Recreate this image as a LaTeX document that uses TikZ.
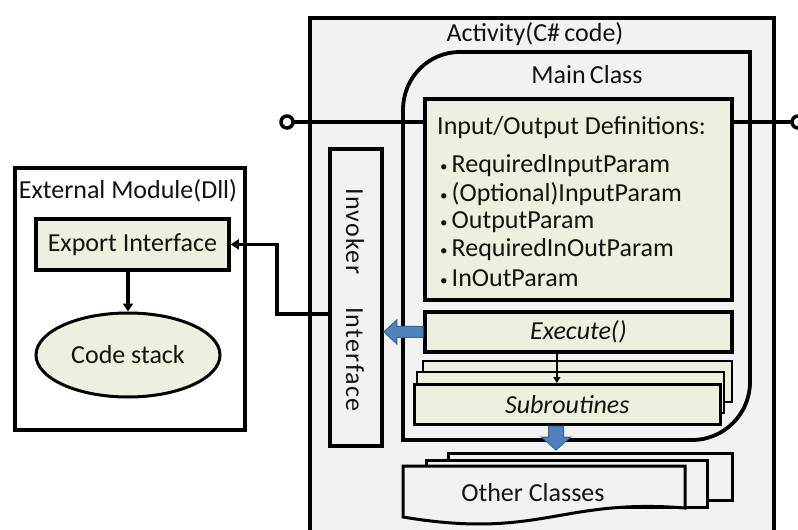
\documentclass[tikz,border=0pt]{standalone}
\usepackage{fontspec}
\setmainfont{Carlito}
\usetikzlibrary{shapes.geometric,arrows.meta,calc}
\definecolor{bggray}{HTML}{F2F2F2}
\definecolor{olivefill}{HTML}{EBF1DE}
\definecolor{blockblue}{HTML}{4F81BD}
\definecolor{blockedge}{HTML}{3A6595}
\definecolor{txtcol}{HTML}{101510}
\newcommand{\bul}{\makebox[11.5pt][l]{\raisebox{1pt}{\fontsize{15}{15}\selectfont •}}}
\begin{document}
\begin{tikzpicture}[x=1pt,y=-1pt,
  font=\fontsize{26}{28.5}\selectfont, text=txtcol,
  panel/.style={draw=black, line width=3.8pt, fill=bggray, rectangle, inner sep=0pt},
  greenbox/.style={draw=black, line width=3.8pt, fill=olivefill, rectangle, inner sep=0pt},
  thinbox/.style={draw=black, line width=2.5pt, fill=olivefill},
  paper/.style={draw=black, line width=3pt, fill=bggray},
  conn/.style={draw=black, line width=3.5pt},
  tip/.style={-{Triangle[length=8pt,width=10pt]}},
  label/.style={inner sep=0pt},
  blockarrow/.style={fill=blockblue, draw=blockedge, line width=1pt, line join=miter},
  port/.style={circle, draw=black, line width=3.5pt, fill=white, minimum size=12pt, inner sep=0pt}]
\useasboundingbox (0,0) rectangle (798,530);
\clip (0,0) rectangle (798,530);
\fill[white] (0,0) rectangle (798,530);

% Activity container
\node[panel, minimum width=464pt, minimum height=560pt, anchor=north west] (activity) at (308,16) {};
\node[label] (actlabel) at (535,34) {Activity(C\#\,code)};

% Main class container
\draw[line width=3.8pt, fill=bggray] (403,440) -- (403,110) .. controls (403,78) and (428,52) .. (460,52)
  -- (750,52) -- (750,382) .. controls (750,414) and (724,440) .. (692,440) -- cycle;
\node[label] (mainlabel) at (587,75) {Main\,Class};

% ports
\coordinate (lcc) at (287,122);
\coordinate (rcc) at (798,122);

% IO definitions
\node[greenbox, line width=4pt, minimum width=307pt, minimum height=201pt, anchor=north west] (io) at (423,97) {};
\draw[conn] (lcc) -- (lcc -| io.west);
\draw[conn] (io.east |- rcc) -- (rcc);
\node[port] (lc) at (lcc) {};
\node[port] (rc) at (rcc) {};
\node[anchor=base west, label] (iohead) at (437,134) {Input/Output Definitions:};
\node[anchor=base west, label] (p1) at (440,172) {\bul RequiredInputParam};
\node[anchor=base west, label] (p2) at (440,201) {\bul (Optional)InputParam};
\node[anchor=base west, label] (p3) at (440,228) {\bul OutputParam};
\node[anchor=base west, label] (p4) at (440,256) {\bul RequiredInOutParam};
\node[anchor=base west, label] (p5) at (440,286) {\bul InOutParam};

% Execute
\node[greenbox, minimum width=307pt, minimum height=40pt, anchor=north west] (exec) at (423,310) {\itshape Execute()};

% Subroutines stack
\draw[thinbox] (423,361) rectangle (732,402);
\draw[thinbox] (417,372) rectangle (724,413);
\node[thinbox, rectangle, inner sep=0pt, minimum width=306pt, minimum height=40pt, anchor=north west] (sub) at (413,383) {\itshape Subroutines};
\draw[line width=2.2pt, -{Triangle[length=6pt,width=7pt]}] ([xshift=-21.5pt]exec.south) -- ([xshift=-21.5pt]exec.south |- sub.north);

% Other classes stack
\draw[paper] (448,453) rectangle (732,500);
\draw[paper] (426,460) rectangle (707,507);
\draw[paper] (403,466) -- (685,466) -- (685,508) .. controls (560,498) and (540,540) .. (403,517) -- cycle;
\node[label] (other) at (533,493) {Other Classes};

% block arrow down
\filldraw[blockarrow] (548.5,426) -- (548.5,437) -- (541.5,437) -- (556,450) -- (570.5,437) -- (563.5,437) -- (563.5,426) -- cycle;

% Invoker interface
\node[panel, minimum width=52pt, minimum height=297pt, anchor=north west] (invoker) at (328,147) {};
\node[label, rotate=-90] (invlabel) at (355,300) {\addfontfeature{LetterSpace=5}Invoker\hspace{33pt}Interface};

% block arrow left
\coordinate (la) at (invoker.east |- exec.west);
\filldraw[blockarrow] ([yshift=5.5pt]exec.west) -- ([shift={(13,-5.5)}]la) -- ([shift={(13,-12)}]la) -- (la)
  -- ([shift={(13,12)}]la) -- ([shift={(13,5.5)}]la) -- ([yshift=-5.5pt]exec.west) -- cycle;

% External module
\node[draw=black, line width=3.8pt, fill=white, minimum width=230pt, minimum height=262pt, anchor=north west, inner sep=0pt] (ext) at (13,166) {};
\node[label] (extlabel) at (128,191) {External Module(Dll)};
\node[greenbox, minimum width=193pt, minimum height=51pt, anchor=north west] (export) at (34,217) {Export Interface};
\node[ellipse, draw=black, line width=3pt, fill=olivefill, minimum width=184pt, minimum height=84pt, inner sep=0pt] (code) at (128,355) {Code stack};
\draw[conn, tip] (code.north |- export.south) -- (code.north);

% Invoker -> Export
\draw[conn, tip] ($(invoker.north west)!0.556!(invoker.south west)$) -- ++(-51,0) |- (export.east);
\end{tikzpicture}
\end{document}
